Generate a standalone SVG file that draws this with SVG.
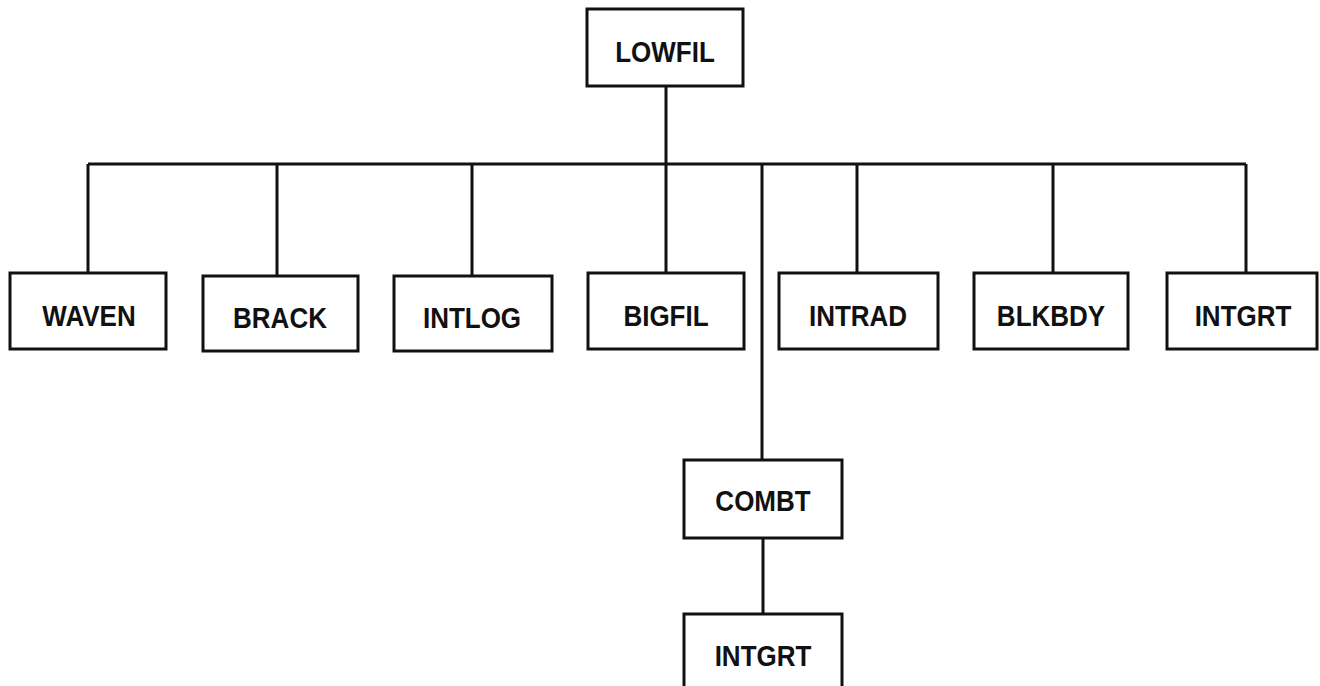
<svg xmlns="http://www.w3.org/2000/svg" width="1320" height="686" viewBox="0 0 1320 686">
<style>
.box{fill:#fff;stroke:#111;stroke-width:3}
.lbl{font-family:"Liberation Sans",Arial,sans-serif;font-weight:bold;font-size:26px;fill:#111;text-anchor:middle}
.conn{stroke:#111;stroke-width:3;fill:none}
</style>
<rect width="1320" height="686" fill="#fff"/>
<g id="connectors">
<path class="conn" d="M666 86V164M88 164H1246M88 164V273M277 164V276M472 164V276M666 164V273M762 164V460M857 164V273M1053 164V273M1246 164V273M763 538V614"/>
</g>
<g id="lowfil"><rect class="box" x="587" y="9" width="156" height="77"/><text class="lbl" transform="translate(665 62) scale(1 1.15)">LOWFIL</text></g>
<g id="waven"><rect class="box" x="10" y="273" width="156" height="76"/><text class="lbl" transform="translate(89 326) scale(1 1.15)">WAVEN</text></g>
<g id="brack"><rect class="box" x="203" y="276" width="155" height="75"/><text class="lbl" transform="translate(280 328) scale(1 1.15)">BRACK</text></g>
<g id="intlog"><rect class="box" x="394" y="276" width="158" height="75"/><text class="lbl" transform="translate(472 328) scale(1 1.15)">INTLOG</text></g>
<g id="bigfil"><rect class="box" x="588" y="273" width="156" height="76"/><text class="lbl" transform="translate(666 326) scale(1 1.15)">BIGFIL</text></g>
<g id="intrad"><rect class="box" x="779" y="273" width="159" height="76"/><text class="lbl" transform="translate(858 326) scale(1 1.15)">INTRAD</text></g>
<g id="blkbdy"><rect class="box" x="974" y="273" width="154" height="76"/><text class="lbl" transform="translate(1051 326) scale(1 1.15)">BLKBDY</text></g>
<g id="intgrt1"><rect class="box" x="1167" y="273" width="150" height="76"/><text class="lbl" transform="translate(1243 326) scale(1 1.15)">INTGRT</text></g>
<g id="combt"><rect class="box" x="684" y="460" width="158" height="78"/><text class="lbl" transform="translate(763 511) scale(1 1.15)">COMBT</text></g>
<g id="intgrt2"><rect class="box" x="684" y="614" width="158" height="80"/><text class="lbl" transform="translate(763 666) scale(1 1.15)">INTGRT</text></g>
</svg>
